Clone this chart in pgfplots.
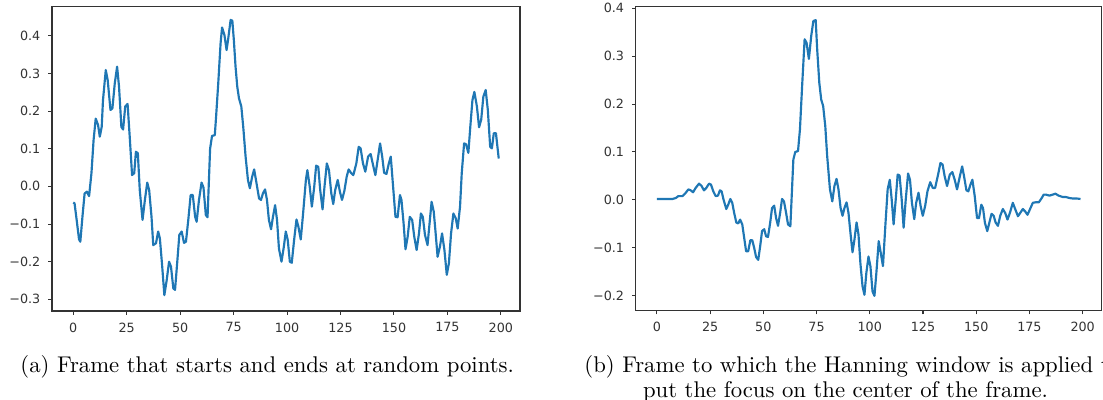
\documentclass[border=0pt]{standalone}
\usepackage{fontspec}
\usepackage{pgfplots}
\pgfplotsset{compat=1.18}
\newfontfamily\dejavu{DejaVu Sans}
\definecolor{mplblue}{HTML}{1F77B4}
\definecolor{frame}{HTML}{333333}

% one reference pixel = 0.44pt
\pgfplotsset{mplframe/.style={
  scale only axis,
  axis line style={frame, line width=0.45pt},
  tick align=outside, major tick length=1.6pt,
  tick style={frame, line width=0.45pt},
  xtick pos=bottom, ytick pos=left,
  ticklabel style={font=\dejavu\fontsize{5.6}{6}\selectfont, text=frame},
  xtick={0,25,50,75,100,125,150,175,200},
  xticklabels={0,25,50,75,100,125,150,175,200},
  xmin=-9.95, xmax=208.95,
}}

\begin{document}
\begin{tikzpicture}
\clip (0,0) rectangle (485.32pt,176pt);
\useasboundingbox (0,0) rectangle (485.32pt,176pt);

\begin{axis}[mplframe,
  at={(22.88pt,39.16pt)}, anchor=south west,
  width=205.92pt, height=134.2pt,
  ymin=-0.331, ymax=0.479,
  ytick={-0.3,-0.2,-0.1,0,0.1,0.2,0.3,0.4},
  yticklabels={−0.3,−0.2,−0.1,0.0,0.1,0.2,0.3,0.4},
]
\addplot[mplblue, line width=0.95pt, line join=round] coordinates {
  (0,-0.043) (0.6,-0.045) (1.6,-0.090) (2.7,-0.141) (3.3,-0.147) (4.3,-0.080)
  (5.3,-0.019) (6.4,-0.014) (7.4,-0.026) (8.5,0.035) (9.5,0.123) (10.5,0.180)
  (11.6,0.163) (12.4,0.132) (13.3,0.158) (13.9,0.229) (15.2,0.309) (16.1,0.282)
  (17.4,0.203) (18.3,0.207) (19.4,0.273) (20.5,0.318) (21.4,0.265) (22.5,0.158)
  (23.3,0.151) (24.3,0.212) (25.4,0.219) (26.4,0.132) (27.5,0.030) (28.5,0.035)
  (29.3,0.092) (30.2,0.088) (31.1,-0.010) (32.4,-0.089) (33.5,-0.036) (34.6,0.010)
  (35.5,-0.010) (36.6,-0.081) (37.4,-0.156) (38.7,-0.151) (39.7,-0.120) (40.5,-0.138)
  (41.6,-0.213) (42.6,-0.289) (43.7,-0.249) (44.8,-0.200) (45.7,-0.213) (46.8,-0.271)
  (47.6,-0.275) (48.7,-0.196) (49.6,-0.129) (50.7,-0.120) (51.8,-0.150) (52.7,-0.147)
  (53.8,-0.089) (54.9,-0.023) (55.9,-0.023) (57.0,-0.081) (57.7,-0.094) (58.8,-0.036)
  (60.0,0.010) (60.9,-0.003) (62.0,-0.076) (62.8,-0.082) (64.0,0.100) (64.9,0.134)
  (66.2,0.136) (66.8,0.185) (67.8,0.273) (68.9,0.380) (69.6,0.422) (70.7,0.402)
  (71.7,0.362) (72.4,0.389) (73.6,0.442) (74.4,0.440) (75.1,0.389) (75.9,0.318)
  (76.7,0.265) (77.5,0.234) (78.6,0.212) (79.5,0.158) (80.6,0.079) (81.7,0.017)
  (82.6,-0.005) (83.7,0.026) (84.6,0.045) (85.6,0.012) (86.9,-0.032) (87.8,-0.036)
  (88.7,-0.019) (89.7,-0.008) (90.6,-0.036) (91.5,-0.089) (92.5,-0.114) (93.4,-0.081)
  (94.4,-0.050) (95.3,-0.089) (96.2,-0.165) (97.4,-0.200) (98.5,-0.160) (99.4,-0.120)
  (100.3,-0.142) (101.3,-0.200) (102.2,-0.203) (103.3,-0.142) (104.4,-0.088) (105.3,-0.107)
  (106.4,-0.141) (107.5,-0.072) (108.8,0.017) (109.5,0.043) (110.6,-0.001) (111.6,-0.054)
  (112.7,-0.001) (113.6,0.055) (114.6,0.052) (115.5,-0.010) (116.6,-0.061) (117.5,-0.001)
  (118.6,0.061) (119.6,0.043) (120.7,-0.019) (121.6,-0.047) (122.5,-0.010) (123.7,0.017)
  (124.7,-0.014) (125.7,-0.036) (126.8,-0.012) (127.9,0.026) (128.8,0.045) (129.9,0.036)
  (131.0,0.030) (132.4,0.061) (133.5,0.105) (134.4,0.101) (135.5,0.061) (136.6,0.039)
  (137.9,0.079) (139.1,0.086) (140.2,0.057) (141.3,0.030) (142.6,0.079) (143.5,0.114)
  (144.5,0.079) (145.4,0.036) (146.5,0.033) (147.6,0.061) (148.5,0.079) (149.6,-0.001)
  (150.7,-0.081) (151.7,-0.082) (152.8,-0.023) (153.5,-0.036) (154.5,-0.098) (155.4,-0.167)
  (156.4,-0.134) (157.4,-0.081) (158.5,-0.089) (159.5,-0.134) (160.6,-0.169) (161.7,-0.125)
  (162.6,-0.072) (163.5,-0.081) (164.5,-0.129) (165.7,-0.156) (166.8,-0.089) (167.6,-0.041)
  (168.6,-0.067) (169.5,-0.125) (170.4,-0.187) (171.5,-0.160) (172.5,-0.125) (173.6,-0.169)
  (174.7,-0.235) (175.7,-0.204) (176.7,-0.125) (177.8,-0.072) (178.9,-0.085) (179.8,-0.112)
  (180.9,-0.054) (181.7,0.035) (182.8,0.114) (183.7,0.112) (184.8,0.089) (185.7,0.158)
  (186.7,0.229) (187.6,0.251) (188.8,0.212) (189.8,0.157) (190.8,0.177) (191.8,0.238)
  (192.9,0.256) (193.9,0.203) (195.0,0.105) (195.8,0.101) (196.7,0.141) (197.7,0.141)
  (199,0.074)
};
\end{axis}

\begin{axis}[mplframe,
  at={(279.71pt,39.29pt)}, anchor=south west,
  width=205.04pt, height=133.76pt,
  ymin=-0.231, ymax=0.403,
  ytick={-0.2,-0.1,0,0.1,0.2,0.3,0.4},
  yticklabels={−0.2,−0.1,0.0,0.1,0.2,0.3,0.4},
]
\addplot[mplblue, line width=0.95pt, line join=round] coordinates {
  (0,0.002) (7.3,0.002) (8.9,0.004) (10.1,0.008) (12.0,0.008) (13.2,0.013)
  (14.8,0.022) (15.9,0.020) (17.0,0.016) (18.2,0.025) (19.8,0.034) (21.0,0.029)
  (22.1,0.020) (23.2,0.025) (24.5,0.034) (25.4,0.032) (26.5,0.018) (27.6,0.008)
  (28.7,0.009) (29.6,0.020) (30.4,0.018) (31.3,0.001) (32.6,-0.019) (33.5,-0.010)
  (34.5,0.002) (35.4,-0.006) (36.3,-0.027) (37.3,-0.047) (38.2,-0.049) (39.1,-0.041)
  (40.1,-0.051) (41.0,-0.079) (41.9,-0.107) (42.9,-0.107) (43.9,-0.084) (44.8,-0.084)
  (45.7,-0.100) (46.6,-0.119) (47.6,-0.125) (48.5,-0.097) (49.4,-0.065) (50.4,-0.061)
  (51.3,-0.076) (52.2,-0.077) (53.2,-0.048) (54.1,-0.017) (55.1,-0.012) (56.0,-0.038)
  (56.9,-0.054) (57.9,-0.027) (58.8,0.002) (59.7,-0.003) (60.7,-0.027) (61.6,-0.051)
  (62.7,-0.055) (64.1,0.084) (65.0,0.100) (66.3,0.102) (67.2,0.147) (68.3,0.244)
  (69.4,0.335) (70.3,0.328) (71.4,0.294) (72.5,0.342) (73.5,0.373) (74.6,0.375)
  (75.3,0.314) (76.3,0.244) (77.2,0.209) (78.1,0.196) (79.1,0.154) (80.0,0.091)
  (81.3,0.022) (82.4,-0.003) (83.4,0.029) (84.4,0.044) (85.3,0.022) (86.3,-0.017)
  (87.2,-0.033) (88.1,-0.017) (89.1,-0.005) (90.0,-0.027) (91.0,-0.072) (91.9,-0.109)
  (92.8,-0.083) (93.8,-0.047) (94.7,-0.072) (95.6,-0.132) (96.6,-0.180) (97.5,-0.198)
  (98.4,-0.152) (99.4,-0.118) (100.3,-0.138) (101.3,-0.191) (102.2,-0.200) (103.1,-0.152)
  (104.2,-0.086) (105.3,-0.114) (106.2,-0.138) (107.3,-0.055) (108.4,0.022) (109.4,0.042)
  (110.3,0.001) (111.2,-0.051) (112.2,0.001) (113.1,0.053) (114.0,0.051) (115.0,0.001)
  (115.9,-0.058) (116.9,0.001) (118.0,0.055) (118.9,0.042) (119.8,-0.006) (120.9,-0.040)
  (121.8,-0.006) (122.9,0.015) (123.9,-0.013) (124.9,-0.033) (126.0,-0.013) (127.1,0.018)
  (128.4,0.037) (129.6,0.025) (130.7,0.025) (132.1,0.053) (133.2,0.077) (134.2,0.074)
  (135.2,0.049) (136.3,0.029) (137.6,0.053) (138.8,0.058) (139.9,0.042) (141.0,0.022)
  (142.3,0.049) (143.4,0.070) (144.3,0.049) (145.4,0.020) (146.3,0.018) (147.3,0.032)
  (148.2,0.042) (149.3,0.008) (150.4,-0.038) (151.3,-0.038) (152.4,-0.010) (153.2,-0.017)
  (154.1,-0.048) (155.2,-0.065) (156.3,-0.045) (157.2,-0.029) (158.2,-0.033) (159.1,-0.047)
  (160.2,-0.054) (161.3,-0.033) (162.5,-0.019) (163.6,-0.027) (164.7,-0.041) (165.9,-0.026)
  (167.2,-0.006) (168.3,-0.019) (169.6,-0.034) (170.7,-0.027) (171.9,-0.019) (173.0,-0.024)
  (174.1,-0.031) (175.3,-0.019) (176.6,-0.006) (177.8,-0.005) (179.4,-0.005) (180.5,0.002)
  (181.7,0.011) (182.8,0.011) (184.4,0.009) (185.9,0.011) (187.2,0.013) (188.7,0.009)
  (190.7,0.006) (192.2,0.006) (193.8,0.004) (195.3,0.003) (197.2,0.003) (199,0.002)
};
\end{axis}

\node[anchor=base west, inner sep=0pt] at (8.8pt,11.9pt)
  {(a) Frame that starts and ends at random points.};
\node[anchor=base west, inner sep=0pt] at (256.96pt,11.9pt)
  {(b) Frame to which the Hanning window is applied to};
\node[anchor=base, inner sep=0pt] at (372pt,1.2pt)
  {put the focus on the center of the frame.};
\end{tikzpicture}
\end{document}
